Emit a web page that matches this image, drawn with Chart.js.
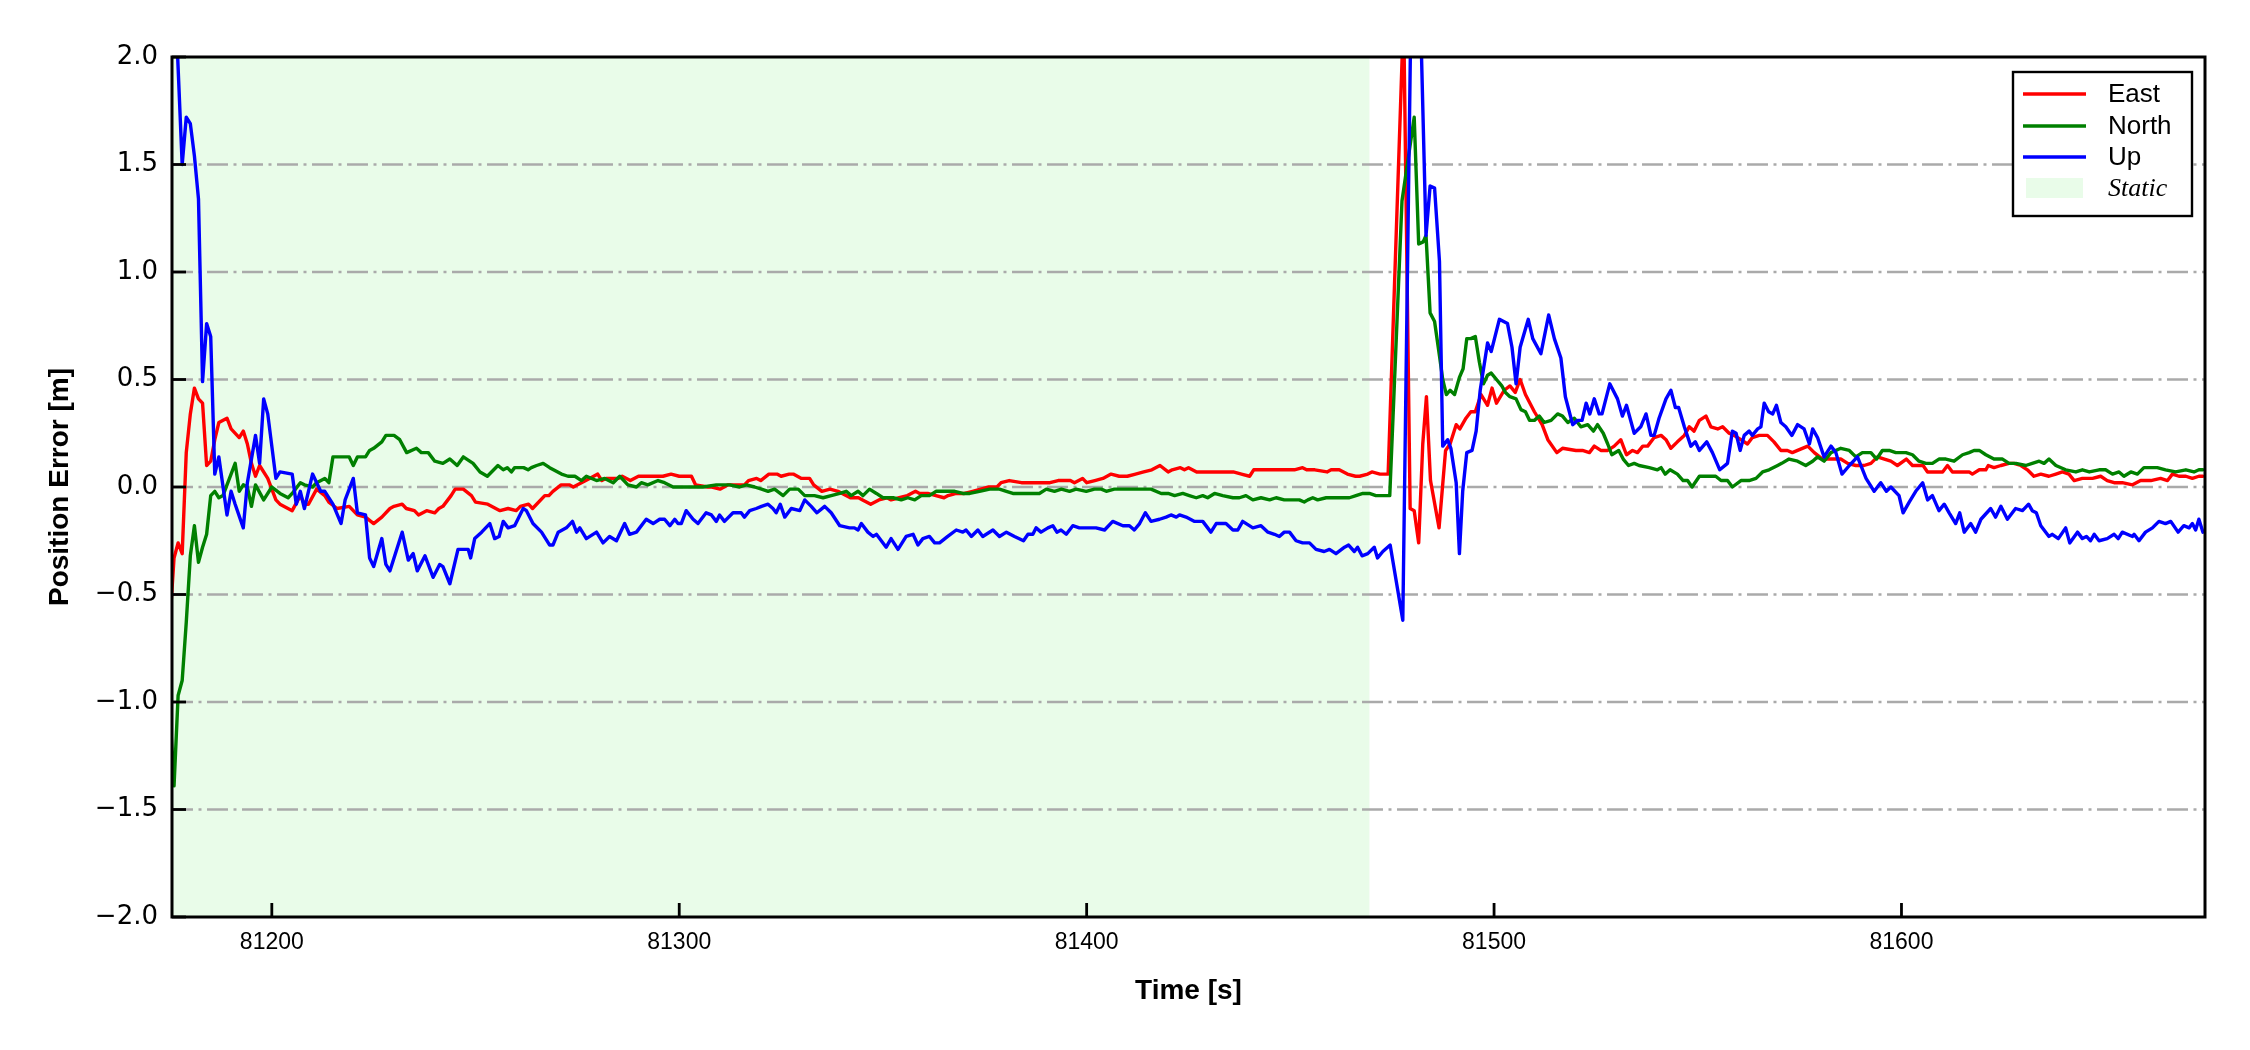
<!DOCTYPE html>
<html><head><meta charset="utf-8">
<script src="https://cdn.jsdelivr.net/npm/chart.js@4.4.0/dist/chart.umd.min.js"></script>
<style>html,body{margin:0;padding:0;background:#fff;}canvas{display:block;}</style>
</head><body>
<canvas id="c" width="2250" height="1050" style="width:2250px;height:1050px"></canvas>
<script>
const xTicks = [81200, 81300, 81400, 81500, 81600];
const yTicks = [-2, -1.5, -1, -0.5, 0, 0.5, 1, 1.5, 2];
const xRange = [81175.5, 81674.5];
const yRange = [-2, 2];
const staticSpan = [81175, 81469.4];
const seriesNames = ['East', 'North', 'Up'];

const eastT = [81175,81176,81177,81178,81179,81180,81181,81182,81183,81184,
81185,81186,81187,81189,81190,81192,81193,81194,81195,81196,
81197,81199,81201,81202,81205,81207,81208,81209,81211,81213,
81214,81216,81219,81221,81223,81225,81227,81229,81230,81232,
81233,81235,81236,81238,81240,81241,81242,81244,81245,81247,
81249,81250,81253,81256,81258,81260,81261,81263,81264,81267,
81268,81269,81271,81273,81274,81276,81278,81280,81281,81282,
81285,81286,81288,81290,81292,81294,81296,81298,81300,81303,
81304,81307,81308,81310,81312,81314,81316,81317,81319,81320,
81322,81324,81325,81327,81328,81330,81332,81333,81335,81337,
81339,81340,81342,81344,81345,81347,81349,81351,81352,81354,
81356,81358,81359,81361,81363,81365,81366,81368,81370,81372,
81374,81376,81378,81379,81381,81384,81386,81388,81390,81391,
81393,81394,81396,81397,81399,81400,81402,81404,81406,81408,
81410,81412,81414,81416,81418,81420,81421,81423,81424,81425,
81427,81429,81432,81434,81436,81438,81440,81441,81443,81445,
81447,81449,81451,81453,81454,81455,81456,81459,81460,81462,
81464,81466,81467,81469,81470,81472,81474,81477.8,81479.4,81480.4,
81481.5,81482.5,81483.4,81484.4,81486.5,81488.1,81489.2,81490.7,81491.6,81493.1,
81494.3,81495.4,81496.8,81498.4,81499.5,81500.6,81502.5,81503.9,81505.2,81506.4,
81507.7,81509.9,81511.8,81513.2,81515.4,81516.8,81520.1,81521.7,81523.4,81524.6,
81526.2,81527.9,81529.5,81531.1,81532.5,81534,81535.2,81536.5,81537.7,81539.3,
81541,81542.2,81543.4,81545,81546.7,81547.9,81549.1,81550.4,81552,81553.2,
81554.9,81556.1,81557.7,81558.9,81560.6,81562.2,81563.4,81565.1,81567.1,81568.7,
81570.4,81572,81573.2,81574.5,81577,81578.6,81580.6,81583.1,81585.1,81586.8,
81588.8,81590.8,81592.5,81594.1,81595.8,81597.4,81599,81601.2,81602.7,81603.9,
81605.3,81606.4,81608,81610.1,81611.3,81612.5,81615,81616.6,81617.4,81619.1,
81620.7,81621.3,81622.7,81624.4,81626.4,81627.6,81629.3,81630.9,81632.5,81634.2,
81636.2,81637.9,81639.5,81641.1,81642.4,81644.4,81646.9,81648.9,81650.5,81652.2,
81654.2,81656.7,81658.7,81661.2,81663.6,81665.3,81666.5,81668.1,81669.8,81671.4,
81673,81674];
const eastV = [-0.62,-0.33,-0.26,-0.31,0.16,0.34,0.46,0.41,0.39,0.10,
0.12,0.22,0.30,0.32,0.27,0.23,0.26,0.20,0.11,0.05,
0.10,0.04,-0.06,-0.08,-0.11,-0.04,-0.08,-0.08,-0.01,-0.04,
-0.07,-0.10,-0.09,-0.13,-0.14,-0.17,-0.14,-0.10,-0.09,-0.08,
-0.10,-0.11,-0.13,-0.11,-0.12,-0.10,-0.09,-0.04,-0.01,-0.01,
-0.04,-0.07,-0.08,-0.11,-0.10,-0.11,-0.09,-0.08,-0.10,-0.04,
-0.04,-0.02,0.01,0.01,0.00,0.02,0.04,0.06,0.03,0.04,
0.04,0.05,0.03,0.05,0.05,0.05,0.05,0.06,0.05,0.05,
0.01,0.00,0.00,-0.01,0.01,0.01,0.01,0.03,0.04,0.03,
0.06,0.06,0.05,0.06,0.06,0.04,0.04,0.01,-0.02,-0.01,
-0.02,-0.03,-0.05,-0.05,-0.06,-0.08,-0.06,-0.05,-0.06,-0.05,
-0.04,-0.02,-0.03,-0.03,-0.04,-0.05,-0.04,-0.03,-0.03,-0.02,
-0.01,0.00,0.00,0.02,0.03,0.02,0.02,0.02,0.02,0.02,
0.03,0.03,0.03,0.02,0.04,0.02,0.03,0.04,0.06,0.05,
0.05,0.06,0.07,0.08,0.10,0.07,0.08,0.09,0.08,0.09,
0.07,0.07,0.07,0.07,0.07,0.06,0.05,0.08,0.08,0.08,
0.08,0.08,0.08,0.09,0.08,0.08,0.08,0.07,0.08,0.08,
0.06,0.05,0.05,0.06,0.07,0.06,0.06,2.2,-0.10,-0.11,
-0.26,0.20,0.42,0.03,-0.19,0.17,0.20,0.29,0.27,0.32,
0.35,0.35,0.43,0.38,0.46,0.39,0.45,0.47,0.44,0.50,
0.43,0.35,0.29,0.22,0.16,0.18,0.17,0.17,0.16,0.19,
0.17,0.17,0.19,0.22,0.15,0.17,0.16,0.19,0.19,0.23,
0.24,0.22,0.18,0.21,0.24,0.28,0.26,0.31,0.33,0.28,
0.27,0.28,0.25,0.24,0.22,0.20,0.23,0.24,0.24,0.21,
0.17,0.17,0.16,0.17,0.19,0.16,0.13,0.13,0.13,0.11,
0.10,0.10,0.11,0.14,0.13,0.12,0.10,0.13,0.10,0.10,
0.10,0.07,0.07,0.07,0.10,0.07,0.07,0.07,0.06,0.08,
0.08,0.10,0.09,0.10,0.11,0.11,0.10,0.08,0.05,0.06,
0.05,0.06,0.07,0.06,0.03,0.04,0.04,0.05,0.03,0.02,
0.02,0.01,0.03,0.03,0.04,0.03,0.06,0.05,0.05,0.04,
0.05,0.05];

const northT = [81175,81176,81177,81178,81179,81180,81181,81182,81183,81184,
81185,81186,81187,81188,81189,81190,81191,81192,81193,81194,
81195,81196,81198,81200,81202,81204,81205,81207,81208,81210,
81211,81213,81214,81215,81217,81219,81220,81221,81223,81224,
81225,81227,81228,81230,81231.4,81233.1,81235.5,81236.7,81238.4,81240,
81242,81243.7,81245.5,81247,81249.4,81251.1,81252.9,81255.5,81256.8,81257.8,
81258.8,81259.6,81261.8,81262.9,81263.7,81265,81266.6,81268.2,81271.1,81272.7,
81274.4,81276,81277.2,81279.7,81281.7,81283.8,81285.4,81287.4,81289.5,81290.7,
81292.3,81294.8,81296.4,81298.5,81302.1,81305.8,81309.1,81312.4,81314.8,81316.5,
81318.5,81320.2,81321.8,81323.4,81325.5,81327.1,81329.2,81330.8,81333.2,81335.3,
81337.3,81339.4,81341,81342.2,81343.9,81345.1,81346.7,81348.4,81350,81352.5,
81354.5,81356.1,81357.8,81359.4,81361.4,81363.1,81365.5,81367.6,81369.6,81371.3,
81373.7,81376.2,81378.6,81380.3,81381.9,81384.3,81386.4,81388.4,81390.1,81392.1,
81393.8,81395.8,81397.4,81399.9,81401.9,81403.6,81404.8,81406.8,81409.3,81411.7,
81414.2,81415.8,81418.3,81420,81421.6,81423.6,81425.2,81426.9,81428.5,81429.7,
81431.4,81433.4,81435.9,81437.5,81439.1,81440.8,81442.8,81444.9,81446.5,81448.5,
81450.6,81452.2,81453.4,81454.3,81455.5,81456.7,81458.8,81460.8,81462.8,81464.5,
81466.1,81467.8,81469.4,81471,81472.7,81474.4,81477.4,81480.4,81481.5,81482.6,
81483.3,81484.3,81485.4,81486.6,81487.4,81488.3,81489.2,81490.3,81491.5,81492.4,
81493.3,81494.3,81495.4,81496.4,81497.4,81498.4,81499.3,81500.6,81501.9,81502.8,
81503.9,81505.4,81506.6,81507.7,81508.7,81509.9,81511.1,81512.3,81514,81515.6,
81516.8,81518.1,81519.7,81521.3,81523,81524.4,81525.4,81526.8,81527.9,81528.9,
81530.6,81531.7,81533,81534.4,81535.6,81538.1,81540.1,81541,81542,81543.2,
81545,81546.4,81547.5,81548.6,81550.4,81552.4,81554.4,81555.7,81557.3,81558.5,
81560.6,81562.6,81564.3,81565.9,81567.5,81569.6,81570.6,81572.4,81574.5,81576.5,
81578.2,81579.4,81581,81582.7,81585.1,81587.2,81588.8,81590.4,81592.5,81593.9,
81595.3,81597,81598.6,81601.1,81602.7,81604.3,81606,81607.6,81609.2,81610.9,
81612.9,81615,81616.6,81617.8,81619.1,81620.7,81622.7,81624.8,81626.4,81628.1,
81630.5,81632.1,81633.8,81635,81636.2,81637.9,81640.3,81642.8,81644.4,81646.1,
81648.5,81650.1,81651.8,81653.4,81654.6,81656.3,81657.9,81659.5,81662.8,81664.8,
81667.3,81669.8,81671.8,81673,81674];
const northV = [-1.05,-1.39,-0.97,-0.90,-0.63,-0.32,-0.18,-0.35,-0.28,-0.22,
-0.04,-0.02,-0.05,-0.04,0.01,0.06,0.11,-0.02,0.01,0.00,
-0.09,0.01,-0.06,0.00,-0.03,-0.05,-0.03,0.02,0.01,0.00,
0.02,0.04,0.02,0.14,0.14,0.14,0.10,0.14,0.14,0.17,
0.18,0.21,0.24,0.24,0.22,0.16,0.18,0.16,0.16,0.12,
0.11,0.13,0.10,0.14,0.11,0.07,0.05,0.10,0.08,0.09,
0.07,0.09,0.09,0.08,0.09,0.10,0.11,0.09,0.06,0.05,
0.05,0.03,0.05,0.03,0.04,0.02,0.05,0.01,0.00,0.02,
0.01,0.03,0.02,0.00,0.00,0.00,0.01,0.01,0.00,0.01,
0.00,-0.01,-0.02,-0.01,-0.04,-0.01,-0.01,-0.04,-0.04,-0.05,
-0.04,-0.03,-0.02,-0.04,-0.02,-0.04,-0.01,-0.03,-0.05,-0.05,
-0.06,-0.05,-0.06,-0.04,-0.04,-0.02,-0.02,-0.02,-0.03,-0.03,
-0.02,-0.01,-0.01,-0.02,-0.03,-0.03,-0.03,-0.03,-0.01,-0.02,
-0.01,-0.02,-0.01,-0.02,-0.01,-0.01,-0.02,-0.01,-0.01,-0.01,
-0.01,-0.01,-0.03,-0.03,-0.04,-0.03,-0.04,-0.05,-0.04,-0.05,
-0.03,-0.04,-0.05,-0.05,-0.04,-0.06,-0.05,-0.06,-0.05,-0.06,
-0.06,-0.06,-0.07,-0.06,-0.05,-0.06,-0.05,-0.05,-0.05,-0.05,
-0.04,-0.03,-0.03,-0.04,-0.04,-0.04,1.33,1.72,1.13,1.14,
1.17,0.81,0.77,0.61,0.50,0.43,0.45,0.43,0.51,0.55,
0.69,0.69,0.70,0.58,0.48,0.52,0.53,0.50,0.47,0.44,
0.42,0.41,0.36,0.35,0.31,0.31,0.33,0.30,0.31,0.34,
0.33,0.30,0.32,0.28,0.29,0.26,0.29,0.25,0.20,0.15,
0.17,0.13,0.10,0.11,0.10,0.09,0.08,0.09,0.06,0.08,
0.06,0.03,0.03,0.00,0.05,0.05,0.05,0.03,0.03,0.00,
0.03,0.03,0.04,0.07,0.08,0.10,0.11,0.13,0.12,0.10,
0.12,0.14,0.12,0.16,0.18,0.17,0.14,0.16,0.16,0.13,
0.17,0.17,0.16,0.16,0.15,0.12,0.11,0.11,0.13,0.13,
0.12,0.15,0.16,0.17,0.17,0.15,0.13,0.13,0.11,0.11,
0.10,0.11,0.12,0.11,0.13,0.10,0.08,0.07,0.08,0.07,
0.08,0.08,0.06,0.07,0.05,0.07,0.06,0.09,0.09,0.08,
0.07,0.08,0.07,0.08,0.08];

const upT = [81175,81176,81178,81179,81180,81181,81182,81183,81184,81185,
81186,81187,81189,81190,81191,81193,81194,81196,81197,81198,
81199,81201,81202,81205,81206,81207,81208,81210,81212,81213,
81215,81217,81218,81220,81221,81223,81224,81225,81227,81228,
81229,81232,81233.5,81234.7,81235.7,81237.6,81239.6,81241.2,81242,81243.7,
81245.7,81247,81248.2,81248.8,81249.8,81251.5,81253.5,81254.7,81255.8,81256.8,
81258,81259.6,81261.7,81262.5,81264.1,81266.2,81268.2,81269,81270.3,81272.3,
81273.8,81274.8,81275.6,81277.2,81279.7,81281.3,81282.9,81284.6,81286.6,81287.8,
81289.5,81291.9,81293.6,81295.2,81296.4,81297.7,81298.9,81299.7,81300.5,81301.7,
81303.4,81304.6,81306.6,81307.9,81309.1,81309.9,81311.1,81313.2,81315.2,81316,
81317.3,81318.9,81320.2,81321.8,81323,81323.8,81324.8,81325.9,81327.5,81329.6,
81330.8,81332.4,81333.8,81335.7,81337.3,81339.4,81341.8,81343,81343.9,81344.7,
81346.3,81347.6,81348.4,81350.8,81352,81353.7,81355.7,81357.4,81358.6,81359.8,
81361.4,81362.7,81363.9,81365.9,81368,81369.6,81370.4,81371.7,81373.3,81374.5,
81377,81378.6,81380.3,81382.3,81384.5,81385.6,81386.8,81387.6,81388.8,81390.5,
81391.7,81392.7,81393.7,81395,81396.6,81398.2,81400.3,81402.3,81404.4,81406.4,
81408.9,81410.5,81411.7,81413,81414.4,81415.8,81417.9,81419.5,81420.7,81422,
81422.8,81424.4,81426.5,81428.5,81430.5,81431.8,81434.2,81435.9,81437.1,81438.3,
81440.8,81442.8,81444.5,81446.1,81447.3,81448.5,81449.8,81451.4,81453,81454.7,
81456.3,81458.3,81459.6,81461.2,81463.3,81464.3,81465.7,81466.5,81467.6,81469,
81470.6,81471.4,81472.7,81474.5,81477.6,81479.8,81481.8,81483.3,81484.3,81485.4,
81486.6,81487.4,81488.6,81489.4,81490.7,81491.5,81492.3,81493.3,81494.6,81495.6,
81496.6,81498.4,81499.3,81501.3,81503.3,81504.4,81505.4,81506.4,81508.4,81509.5,
81511.5,81513.4,81514.8,81516.4,81517.5,81519.3,81520.5,81521.6,81522.6,81523.5,
81524.6,81525.8,81526.5,81528.4,81530.3,81531.5,81532.5,81534.4,81536,81537.3,
81538.5,81539.3,81540.5,81542.2,81543.4,81544.5,81545.3,81546.7,81548.3,81549.4,
81550.4,81552.2,81553.6,81555.4,81557.3,81558.5,81559.4,81560.4,81561.4,81562.6,
81563.4,81564.7,81565.5,81566.3,81567.4,81568.4,81569.3,81570.4,81571.6,81573.1,
81574.5,81576.1,81577.4,81578.2,81579.4,81581,81582.7,81583.9,81585.4,81587.2,
81589.2,81591.3,81593.3,81594.9,81596.3,81597.4,81599.4,81600.4,81601.9,81603.5,
81605.2,81606.4,81607.6,81609.2,81610.5,81611.7,81613.3,81614.3,81615.4,81617,
81618.2,81619.5,81621.9,81623.1,81624.4,81626,81628,81629.7,81631.2,81632.1,
81633.1,81634.2,81636.2,81637,81638.5,81640.3,81641.3,81643.2,81644.4,81645.4,
81646.4,81647.3,81648.5,81650.5,81652.2,81653.2,81654.2,81656.7,81657.1,81658.3,
81659.9,81661.6,81663.2,81664.8,81666.1,81667.9,81669.3,81670.6,81671.4,81672.2,
81673,81674];
const upV = [3.5,2.4,1.5,1.72,1.69,1.54,1.34,0.49,0.76,0.70,
0.06,0.14,-0.13,-0.02,-0.08,-0.19,0.02,0.24,0.11,0.41,
0.34,0.04,0.07,0.06,-0.08,-0.02,-0.10,0.06,-0.02,-0.02,
-0.08,-0.17,-0.06,0.04,-0.12,-0.13,-0.33,-0.37,-0.24,-0.36,
-0.39,-0.21,-0.34,-0.31,-0.39,-0.32,-0.42,-0.36,-0.37,-0.45,
-0.29,-0.29,-0.29,-0.33,-0.24,-0.21,-0.17,-0.24,-0.23,-0.16,
-0.19,-0.18,-0.10,-0.11,-0.17,-0.21,-0.27,-0.27,-0.21,-0.19,
-0.16,-0.21,-0.19,-0.24,-0.21,-0.26,-0.23,-0.25,-0.17,-0.22,
-0.21,-0.15,-0.17,-0.15,-0.15,-0.18,-0.15,-0.17,-0.17,-0.11,
-0.15,-0.17,-0.12,-0.13,-0.16,-0.13,-0.16,-0.12,-0.12,-0.14,
-0.11,-0.10,-0.09,-0.08,-0.10,-0.12,-0.08,-0.14,-0.10,-0.11,
-0.06,-0.09,-0.12,-0.09,-0.12,-0.18,-0.19,-0.19,-0.20,-0.17,
-0.21,-0.23,-0.22,-0.28,-0.24,-0.29,-0.23,-0.22,-0.27,-0.24,
-0.23,-0.26,-0.26,-0.23,-0.20,-0.21,-0.20,-0.23,-0.20,-0.23,
-0.20,-0.23,-0.21,-0.23,-0.25,-0.22,-0.22,-0.19,-0.21,-0.19,
-0.18,-0.21,-0.20,-0.22,-0.18,-0.19,-0.19,-0.19,-0.20,-0.16,
-0.18,-0.18,-0.20,-0.17,-0.12,-0.16,-0.15,-0.14,-0.13,-0.14,
-0.13,-0.14,-0.16,-0.16,-0.21,-0.17,-0.17,-0.20,-0.20,-0.16,
-0.19,-0.18,-0.21,-0.22,-0.23,-0.21,-0.21,-0.25,-0.26,-0.26,
-0.29,-0.30,-0.29,-0.31,-0.28,-0.27,-0.30,-0.28,-0.32,-0.31,
-0.28,-0.33,-0.30,-0.27,-0.62,2.5,2.3,1.17,1.40,1.39,
1.05,0.19,0.22,0.18,0.02,-0.31,-0.02,0.16,0.17,0.26,
0.45,0.67,0.63,0.78,0.76,0.65,0.48,0.65,0.78,0.69,
0.62,0.80,0.69,0.60,0.42,0.29,0.31,0.31,0.39,0.34,
0.41,0.34,0.34,0.48,0.41,0.33,0.38,0.25,0.28,0.34,
0.24,0.24,0.32,0.41,0.45,0.37,0.37,0.28,0.19,0.21,
0.17,0.21,0.16,0.08,0.11,0.26,0.25,0.17,0.24,0.26,
0.24,0.27,0.28,0.39,0.35,0.34,0.38,0.30,0.28,0.24,
0.29,0.27,0.20,0.27,0.23,0.14,0.19,0.16,0.06,0.10,
0.14,0.04,-0.02,0.02,-0.02,0.00,-0.04,-0.12,-0.07,-0.02,
0.02,-0.06,-0.04,-0.11,-0.08,-0.12,-0.17,-0.12,-0.21,-0.17,
-0.21,-0.15,-0.10,-0.14,-0.09,-0.15,-0.10,-0.11,-0.08,-0.11,
-0.12,-0.18,-0.23,-0.22,-0.24,-0.19,-0.26,-0.21,-0.24,-0.23,
-0.25,-0.22,-0.25,-0.24,-0.22,-0.24,-0.21,-0.23,-0.22,-0.25,
-0.21,-0.19,-0.16,-0.17,-0.16,-0.21,-0.18,-0.19,-0.17,-0.20,
-0.15,-0.21];

function pts(T, V) { const n = Math.min(T.length, V.length); const out = []; for (let i = 0; i < n; i++) out.push({x: T[i], y: V[i]}); return out; }
function fmtY(v) { return (v < 0 ? '\u2212' : '') + Math.abs(v).toFixed(1); }

const SANS = '"Liberation Sans", Arial, Helvetica, sans-serif';
const DEJA = '"DejaVu Sans", "Liberation Sans", sans-serif';
const SERIF = '"Liberation Serif", "Times New Roman", serif';

const decor = {
  id: 'decor',
  beforeDatasetsDraw(chart) {
    const {ctx, chartArea: a, scales: {x, y}} = chart;
    ctx.save();
    const x0 = Math.max(a.left, x.getPixelForValue(staticSpan[0])), x1 = x.getPixelForValue(staticSpan[1]);
    ctx.fillStyle = 'rgba(144,238,144,0.2)';
    ctx.fillRect(x0, a.top, x1 - x0, a.bottom - a.top);
    ctx.strokeStyle = '#aaaaaa';
    ctx.lineWidth = 2.4;
    ctx.setLineDash([21, 5.5, 3, 5.5]);
    yTicks.forEach(v => {
      if (v <= yRange[0] || v >= yRange[1]) return;
      const py = y.getPixelForValue(v);
      ctx.beginPath(); ctx.moveTo(a.left, py); ctx.lineTo(a.right, py); ctx.stroke();
    });
    ctx.restore();
  },
  afterDatasetsDraw(chart) {
    const {ctx, chartArea: a, scales: {x, y}} = chart;
    ctx.save();
    ctx.setLineDash([]);
    ctx.strokeStyle = '#000';
    ctx.lineWidth = 3;
    ctx.strokeRect(a.left, a.top, a.right - a.left, a.bottom - a.top);
    ctx.lineWidth = 2.8;
    const tl = 14;
    yTicks.forEach(v => {
      const py = y.getPixelForValue(v);
      ctx.beginPath(); ctx.moveTo(a.left, py); ctx.lineTo(a.left + tl, py); ctx.stroke();
    });
    xTicks.forEach(v => {
      const px = x.getPixelForValue(v);
      ctx.beginPath(); ctx.moveTo(px, a.bottom); ctx.lineTo(px, a.bottom - tl); ctx.stroke();
    });
    // legend
    const bx = a.right - 192, by = a.top + 15, bw = 179, bh = 144;
    ctx.fillStyle = '#fff';
    ctx.fillRect(bx, by, bw, bh);
    ctx.lineWidth = 2.4;
    ctx.strokeStyle = '#000';
    ctx.strokeRect(bx, by, bw, bh);
    const rows = [22, 54, 85, 116];
    const hx0 = bx + 10, hx1 = bx + 73, tx = bx + 95;
    ctx.textBaseline = 'middle';
    ctx.textAlign = 'left';
    chart.data.datasets.forEach((d, i) => {
      const ry = by + rows[i];
      ctx.strokeStyle = d.borderColor; ctx.lineWidth = 3.4;
      ctx.beginPath(); ctx.moveTo(hx0, ry); ctx.lineTo(hx1, ry); ctx.stroke();
      ctx.fillStyle = '#000'; ctx.font = '26px ' + SANS;
      ctx.fillText(d.label, tx, ry + 1);
    });
    const sy = by + rows[3];
    ctx.fillStyle = 'rgba(144,238,144,0.2)';
    ctx.fillRect(hx0 + 3, sy - 10, hx1 - hx0 - 6, 20);
    ctx.fillStyle = '#000'; ctx.font = 'italic 26px ' + SERIF;
    ctx.fillText('Static', tx, sy + 1);
    ctx.restore();
  }
};

const baseDs = {pointRadius: 0, borderWidth: 3.4, tension: 0, fill: false, borderJoinStyle: 'round', borderCapStyle: 'round'};
new Chart(document.getElementById('c'), {
  type: 'line',
  data: {datasets: [
    Object.assign({label: seriesNames[0], data: pts(eastT, eastV), borderColor: '#ff0000', order: 2}, baseDs),
    Object.assign({label: seriesNames[1], data: pts(northT, northV), borderColor: '#008000', order: 1}, baseDs),
    Object.assign({label: seriesNames[2], data: pts(upT, upV), borderColor: '#0000ff', order: 0}, baseDs)
  ]},
  options: {
    responsive: false, animation: false, devicePixelRatio: 1,
    layout: {padding: {left: 0, top: 57, right: 45, bottom: 0}},
    plugins: {legend: {display: false}, tooltip: {enabled: false}},
    scales: {
      x: {
        type: 'linear', min: xRange[0], max: xRange[1],
        grid: {display: false, drawTicks: false}, border: {display: false},
        afterBuildTicks: s => { s.ticks = xTicks.map(v => ({value: v})); },
        afterFit: s => { s.height = 133; },
        ticks: {color: '#000', font: {family: SANS, size: 23}, padding: 12, maxRotation: 0, autoSkip: false, callback: v => String(v)},
        title: {display: true, text: 'Time [s]', color: '#000', font: {family: SANS, size: 28, weight: 'bold'}, padding: {top: 0, bottom: 42}}
      },
      y: {
        type: 'linear', min: yRange[0], max: yRange[1],
        grid: {display: false, drawTicks: false}, border: {display: false},
        afterBuildTicks: s => { s.ticks = yTicks.map(v => ({value: v})); },
        afterFit: s => { s.width = 172; },
        ticks: {color: '#000', font: {family: DEJA, size: 26}, padding: 14, autoSkip: false, callback: v => fmtY(v)},
        title: {display: true, text: 'Position Error [m]', color: '#000', font: {family: SANS, size: 28, weight: 'bold'}, padding: {top: 43, bottom: 0}}
      }
    }
  },
  plugins: [decor]
});
</script>
</body></html>
